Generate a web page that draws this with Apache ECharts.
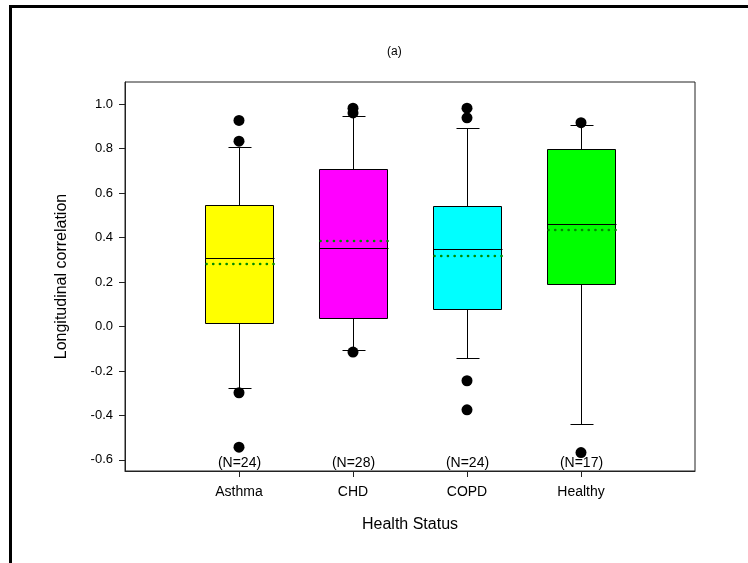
<!DOCTYPE html>
<html>
<head>
<meta charset="utf-8">
<script src="https://cdn.jsdelivr.net/npm/echarts@6/dist/echarts.min.js"></script>
<style>html,body{margin:0;padding:0;background:#fff;}#c{width:748px;height:563px;}</style>
</head>
<body>
<div id="c"></div>
<script>
const categories = ['Asthma', 'CHD', 'COPD', 'Healthy'];
const nLabels = ['(N=24)', '(N=28)', '(N=24)', '(N=17)'];
const boxColors = ['#ffff00', '#ff00ff', '#00ffff', '#00ff00'];
const lowerWhisker = [-0.278, -0.106, -0.143, -0.438];
const q1 = [0.014, 0.039, 0.080, 0.192];
const median = [0.306, 0.351, 0.349, 0.463];
const q3 = [0.547, 0.710, 0.542, 0.798];
const upperWhisker = [0.809, 0.949, 0.892, 0.907];
const means = [0.282, 0.385, 0.316, 0.433];
const outlierCats = ['Asthma', 'Asthma', 'Asthma', 'Asthma', 'CHD', 'CHD', 'CHD', 'COPD', 'COPD', 'COPD', 'COPD', 'Healthy', 'Healthy'];
const outlierValues = [0.927, 0.834, -0.298, -0.543, 0.982, 0.961, -0.115, 0.982, 0.939, -0.244, -0.375, 0.917, -0.567];
const yTicks = [-0.6, -0.4, -0.2, 0.0, 0.2, 0.4, 0.6, 0.8, 1.0];

const FONT = "'Liberation Sans', Arial, sans-serif";
const yMin = -0.65, yMax = 1.1;
const catPos = categories.map((c, i) => i + 1);

const boxData = categories.map((c, i) => [catPos[i], lowerWhisker[i], q1[i], median[i], q3[i], upperWhisker[i], means[i], i]);
const outlierData = outlierCats.map((c, i) => [catPos[categories.indexOf(c)], outlierValues[i]]);

function renderBox(params, api) {
  const x = api.value(0);
  const idx = api.value(7);
  const unit = api.size([1, 0])[0];
  const bw = unit * 0.6;
  const cw = unit * 0.2;
  const pLow = api.coord([x, api.value(1)]);
  const pQ1 = api.coord([x, api.value(2)]);
  const pMed = api.coord([x, api.value(3)]);
  const pQ3 = api.coord([x, api.value(4)]);
  const pHigh = api.coord([x, api.value(5)]);
  const pMean = api.coord([x, api.value(6)]);
  const pBot = api.coord([x, yMin]);
  const cx = Math.round(pLow[0]) + 0.5;
  const line = (x1, y1, x2, y2, style) => ({ type: 'line', shape: { x1, y1, x2, y2 }, style: Object.assign({ stroke: '#000', lineWidth: 1 }, style || {}) });
  const r = v => Math.round(v) + 0.5;
  return {
    type: 'group',
    children: [
      line(cx, r(pLow[1]), cx, r(pHigh[1])),
      line(r(cx - cw / 2), r(pLow[1]), r(cx + cw / 2), r(pLow[1])),
      line(r(cx - cw / 2), r(pHigh[1]), r(cx + cw / 2), r(pHigh[1])),
      { type: 'rect', shape: { x: r(cx - bw / 2), y: r(pQ3[1]), width: Math.round(bw), height: Math.round(pQ1[1] - pQ3[1]) },
        style: { fill: boxColors[idx], stroke: '#000', lineWidth: 1 } },
      line(r(cx - bw / 2), r(pMed[1]), r(cx + bw / 2), r(pMed[1])),
      line(r(cx - bw / 2) + 1, Math.round(pMean[1]), r(cx + bw / 2), Math.round(pMean[1]), { stroke: '#008a00', lineWidth: 2.6, lineDash: [0.1, 6.6], lineCap: 'round' }),
      { type: 'text', style: { x: cx, y: pBot[1] - 0.5, text: nLabels[idx], align: 'center', verticalAlign: 'bottom', fill: '#000', fontSize: 14, fontFamily: FONT } }
    ]
  };
}

const chart = echarts.init(document.getElementById('c'), null, { renderer: 'canvas' });
chart.setOption({
  animation: false,
  backgroundColor: '#fff',
  grid: { left: 125, top: 82, width: 570, height: 389, show: true, borderColor: '#222', borderWidth: 1, containLabel: false },
  xAxis: {
    type: 'value', min: 0, max: 5,
    name: 'Health Status', nameLocation: 'middle', nameGap: 46,
    nameTextStyle: { fontSize: 16, fontFamily: FONT, color: '#000' },
    axisLine: { show: true, onZero: false, lineStyle: { color: '#222', width: 1 } },
    axisTick: { show: true, length: 6, customValues: catPos, lineStyle: { color: '#222' } },
    axisLabel: { customValues: catPos, margin: 14, fontSize: 14, fontFamily: FONT, color: '#000',
      formatter: v => categories[Math.round(v) - 1] || '' },
    splitLine: { show: false }
  },
  yAxis: {
    type: 'value', min: yMin, max: yMax,
    name: 'Longitudinal correlation', nameLocation: 'middle', nameGap: 55,
    nameTextStyle: { fontSize: 16, fontFamily: FONT, color: '#000' },
    axisLine: { show: true, onZero: false, lineStyle: { color: '#222', width: 1 } },
    axisTick: { show: true, length: 6, customValues: yTicks, lineStyle: { color: '#222' } },
    axisLabel: { customValues: yTicks, margin: 12, fontSize: 13, fontFamily: FONT, color: '#000',
      formatter: v => v.toFixed(1) },
    splitLine: { show: false }
  },
  graphic: [
    { type: 'rect', shape: { x: 10.5, y: 6.5, width: 900, height: 700 }, style: { fill: 'none', stroke: '#000', lineWidth: 3 }, silent: true },
    { type: 'text', left: 387, top: 46, style: { text: '(a)', fontSize: 12, fontFamily: FONT, fill: '#000' } }
  ],
  series: [
    { type: 'custom', renderItem: renderBox, data: boxData, clip: false, z: 2,
      encode: { x: 0, y: [1, 5] } },
    { type: 'scatter', data: outlierData, symbol: 'circle', symbolSize: 11,
      itemStyle: { color: '#000', opacity: 1 }, z: 3 }
  ]
});
</script>
</body>
</html>
